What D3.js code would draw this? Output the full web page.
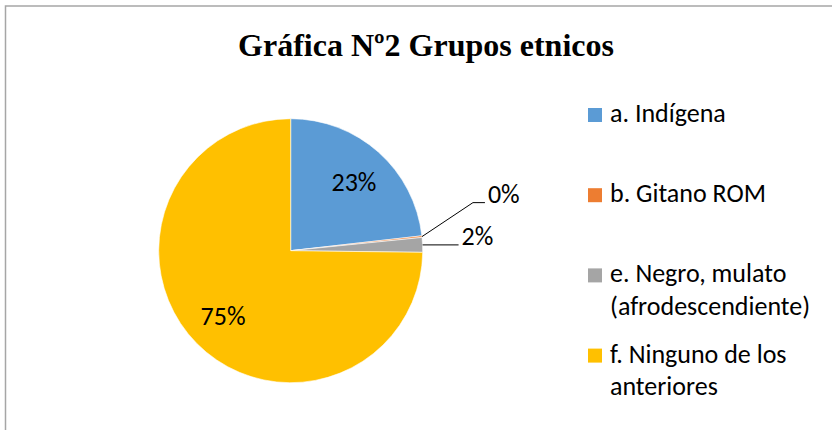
<!DOCTYPE html>
<html>
<head>
<meta charset="utf-8">
<script src="https://cdn.jsdelivr.net/npm/d3@7"></script>
<style>
  body { margin: 0; background: #fff; }
  svg { display: block; }
  .lbl { font-family: Calibri, Carlito, Lato, sans-serif; font-size: 26px; fill: #000; }
</style>
</head>
<body>
<svg id="chart"></svg>
<script>
// chart data
const categories = ["a. Indígena", "b. Gitano ROM", "e. Negro, mulato (afrodescendiente)", "f. Ninguno de los anteriores"];
const legendLines = [["a. Indígena"], ["b. Gitano ROM"], ["e. Negro, mulato", "(afrodescendiente)"], ["f. Ninguno de los", "anteriores"]];
const values = [23.2, 0.2, 1.8, 74.8];
const colors = ["#5B9BD5", "#ED7D31", "#A5A5A5", "#FFC000"];
const titleText = "Gráfica Nº2 Grupos etnicos";

const width = 832, height = 430;
const cx = 290.7, cy = 250.7, radius = 132;

// leader line layout for the small slices (elbow offset from arc edge, tail length)
const leader = { 1: {dx: 51, dy: -34, tail: 12}, 2: {dx: 36, dy: 0, tail: 0} };

const svg = d3.select('#chart')
    .attr('width', width)
    .attr('height', height);

// frame
svg.append('rect')
    .attr('x', 5.5).attr('y', 6)
    .attr('width', width + 10).attr('height', height + 10)
    .attr('fill', 'none')
    .attr('stroke', '#A6A6A6')
    .attr('stroke-width', 1.5);

svg.append('text')
    .attr('x', 426).attr('y', 56)
    .attr('text-anchor', 'middle')
    .style('font-family', '"Liberation Serif", "Times New Roman", serif')
    .style('font-weight', 'bold')
    .style('font-size', '32px')
    .text(titleText);

const total = d3.sum(values);
const pie = d3.pie().sort(null).value(d => d);
const arcs = pie(values);
const arc = d3.arc().innerRadius(0).outerRadius(radius);

const g = svg.append('g').attr('transform', `translate(${cx},${cy})`);

g.selectAll('path.slice')
    .data(arcs)
    .enter()
    .append('path')
    .attr('class', 'slice')
    .attr('d', arc)
    .attr('fill', (d, i) => colors[i])
    .attr('stroke', '#fff')
    .attr('stroke-width', 0.6);

const pct = v => Math.round(v / total * 100) + '%';
const mid = d => (d.startAngle + d.endAngle) / 2;

// inside labels
const inner = arcs.filter((d, i) => !leader[i]);
g.selectAll('text.in')
    .data(inner)
    .enter()
    .append('text')
    .attr('class', 'lbl')
    .attr('text-anchor', 'middle')
    .attr('dy', '0.35em')
    .attr('x', d => Math.sin(mid(d)) * radius * 0.72)
    .attr('y', d => -Math.cos(mid(d)) * radius * 0.7)
    .text(d => pct(d.value));

// outside labels with leader lines
arcs.forEach((d, i) => {
    const L = leader[i];
    if (!L) return;
    const a = mid(d);
    const x0 = Math.sin(a) * radius, y0 = -Math.cos(a) * radius;
    const x1 = x0 + L.dx, y1 = y0 + L.dy;
    const x2 = x1 + L.tail;
    g.append('path')
        .attr('d', d3.line()([[x0, y0], [x1, y1], [x2, y1]]))
        .attr('fill', 'none')
        .attr('stroke', '#000')
        .attr('stroke-width', 1);
    g.append('text')
        .attr('class', 'lbl')
        .attr('x', x2 + 3)
        .attr('y', y1)
        .text(pct(d.value));
});

// legend
const legend = svg.append('g').attr('transform', 'translate(588, 122)');
const items = legend.selectAll('g.item')
    .data(categories)
    .enter()
    .append('g')
    .attr('class', 'item')
    .attr('transform', (d, i) => `translate(0, ${i * 80.2})`);

items.append('rect')
    .attr('x', 0).attr('y', -14)
    .attr('width', 14).attr('height', 14)
    .attr('fill', (d, i) => colors[i]);

items.each(function(d, i) {
    const t = d3.select(this).append('text')
        .attr('class', 'lbl')
        .attr('x', 22).attr('y', 0);
    legendLines[i].forEach((line, j) => {
        t.append('tspan')
            .attr('x', 22)
            .attr('dy', j === 0 ? 0 : 32.5)
            .text(line);
    });
});
</script>
</body>
</html>
